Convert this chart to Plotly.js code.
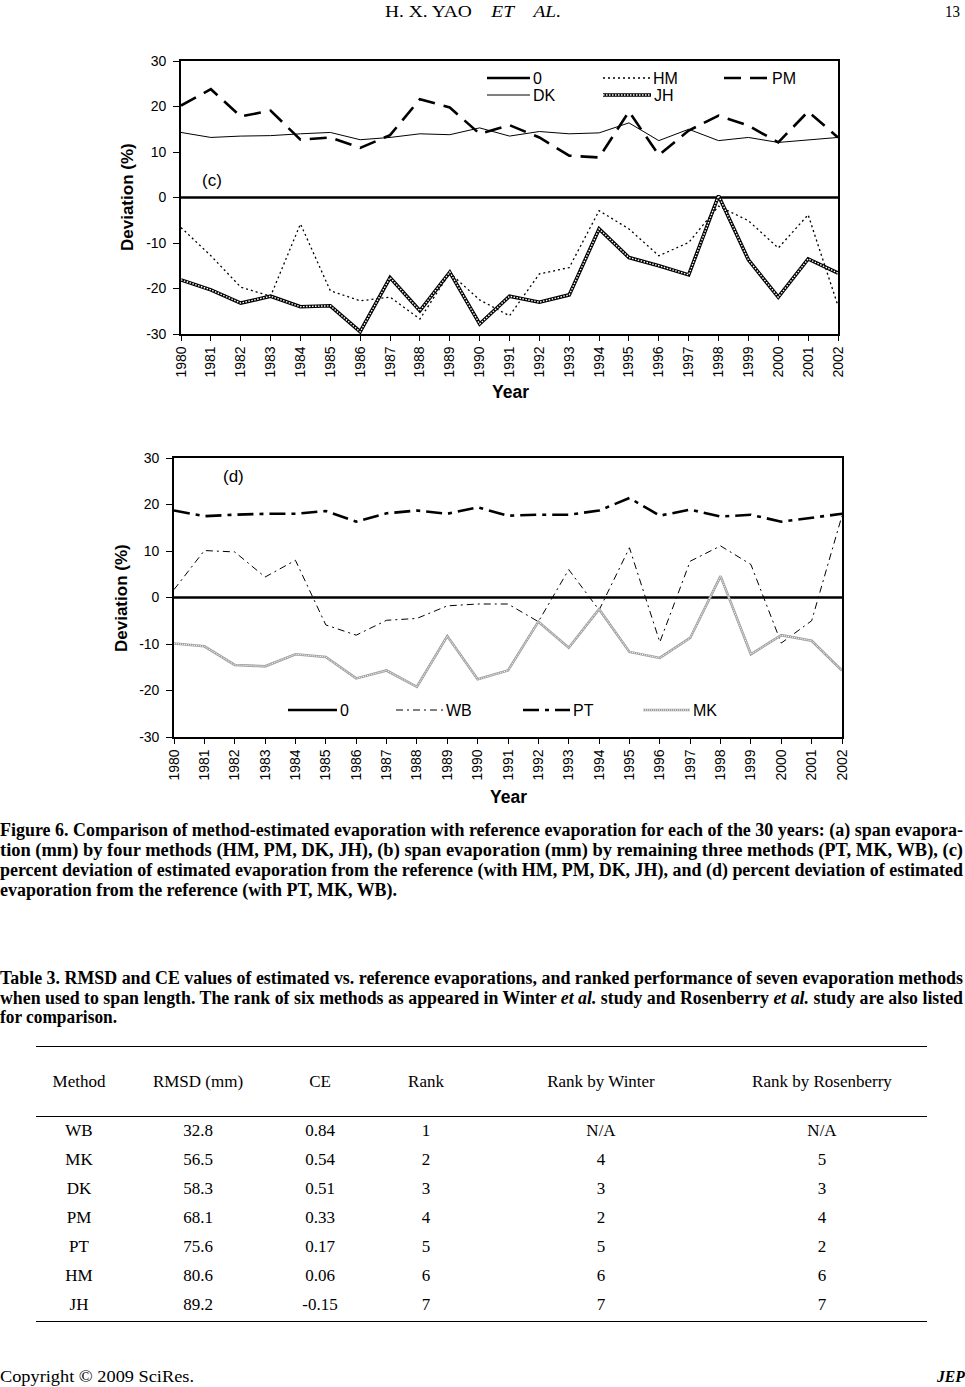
<!DOCTYPE html>
<html><head><meta charset="utf-8">
<script src="https://cdn.plot.ly/plotly-3.0.1.min.js"></script>
<style>
html,body{margin:0;padding:0;background:#fff;}
body{width:965px;height:1387px;position:relative;overflow:hidden;font-family:"Liberation Serif","Times New Roman",serif;color:#000;}
#plot{position:absolute;left:0;top:0;width:965px;height:1387px;}
.t{position:absolute;white-space:pre;transform-origin:0 50%;line-height:20px;}
.b{font-weight:bold;}
.cell{position:absolute;width:220px;text-align:center;font-size:17px;line-height:20px;white-space:nowrap;}
.rule{position:absolute;left:36px;width:891px;height:0;border-top:1.5px solid #000;}
</style></head><body>
<div id="plot"></div>
<div id="texts"></div>
<script>
// ---------- data ----------
const years = [1980,1981,1982,1983,1984,1985,1986,1987,1988,1989,1990,1991,1992,1993,1994,1995,1996,1997,1998,1999,2000,2001,2002];
const yearLabels = ['1980','1981','1982','1983','1984','1985','1986','1987','1988','1989','1990','1991','1992','1993','1994','1995','1996','1997','1998','1999','2000','2001','2002'];
const zeroLine = [0,0,0,0,0,0,0,0,0,0,0,0,0,0,0,0,0,0,0,0,0,0,0];
// panel (c)
const devHM = [-6.6,-12.8,-19.7,-21.7,-5.8,-20.5,-22.7,-21.9,-26.7,-16.6,-22.5,-26.0,-16.8,-15.4,-2.9,-6.9,-12.8,-9.9,-1.9,-5.1,-11.1,-3.8,-23.8];
const devPM = [20.2,23.8,17.8,19.1,12.7,13.2,10.9,13.7,21.6,19.8,14.0,15.9,13.2,9.2,8.8,18.9,9.3,14.7,18.0,15.8,12.1,18.9,13.2];
const devDK = [14.3,13.2,13.5,13.6,14.0,14.3,12.7,13.2,14.0,13.8,15.3,13.5,14.5,14.0,14.2,16.4,12.5,15.0,12.5,13.2,12.1,12.7,13.2];
const devJH = [-18.1,-20.3,-23.2,-21.7,-24.0,-23.8,-29.5,-17.6,-24.9,-16.4,-27.8,-21.7,-23.0,-21.4,-6.9,-13.2,-15.0,-17.0,0.4,-13.7,-21.9,-13.5,-16.6];
// panel (d)
const devWB = [1.7,10.1,9.8,4.4,8.0,-5.9,-8.1,-4.9,-4.5,-1.8,-1.4,-1.4,-5.2,6.0,-2.7,10.7,-9.6,7.8,11.1,7.1,-9.8,-5.0,17.6];
const devPT = [18.7,17.5,17.8,18.0,18.0,18.6,16.3,18.1,18.7,18.0,19.4,17.6,17.8,17.8,18.7,21.4,17.6,18.9,17.4,17.8,16.3,17.2,18.0];
const devMK = [-9.9,-10.5,-14.5,-14.8,-12.2,-12.8,-17.4,-15.7,-19.2,-8.3,-17.6,-15.7,-5.2,-10.8,-2.5,-11.7,-13.0,-8.7,4.6,-12.2,-8.1,-9.3,-15.7];
const yTicks = [-30,-20,-10,0,10,20,30];
const yTickLabels = ['-30','-20','-10','0','10','20','30'];
// table 3
const methods = ['WB','MK','DK','PM','PT','HM','JH'];
const rmsd = ['32.8','56.5','58.3','68.1','75.6','80.6','89.2'];
const ceVals = ['0.84','0.54','0.51','0.33','0.17','0.06','-0.15'];
const rankVals = ['1','2','3','4','5','6','7'];
const rankWinter = ['N/A','4','3','2','5','6','7'];
const rankRosen = ['N/A','5','3','4','2','6','7'];
const tableHeader = ['Method','RMSD (mm)','CE','Rank','Rank by Winter','Rank by Rosenberry'];

// ---------- chart ----------
const W = 965, H = 1387;
const P = x => x / W, Q = y => 1 - y / H;
const sans = 'Liberation Sans, Arial, sans-serif';
function ln(y, xa, ya, color, width, dash){
  return {x: years, y: y, xaxis: xa, yaxis: ya, mode: 'lines', line: {color: color, width: width, dash: dash, shape: 'linear'}, hoverinfo: 'skip', showlegend: false};
}
const styles = {
  zero: ['#000', 2.5, 'solid'],
  HM: ['#000', 1.3, '2px,3px'],
  PM: ['#000', 2.6, '17px,9px'],
  DK: ['#000', 1.0, 'solid'],
  JHo: ['#000', 3.6, 'solid'],
  JHi: ['#fff', 1.4, '1.5px,1.5px'],
  WB: ['#000', 1.0, '7px,4px,2px,4px'],
  PT: ['#000', 2.6, '16px,6px,4px,6px'],
  MKo: ['#a0a0a0', 2.6, 'solid'],
  MKi: ['#fff', 1.0, '1px,1px']
};
const traces = [
  ln(devDK,'x','y',...styles.DK),
  ln(devPM,'x','y',...styles.PM),
  ln(devHM,'x','y',...styles.HM),
  ln(zeroLine,'x','y',...styles.zero),
  ln(devJH,'x','y',...styles.JHo),
  ln(devJH,'x','y',...styles.JHi),
  ln(devPT,'x2','y2',...styles.PT),
  ln(devWB,'x2','y2',...styles.WB),
  ln(zeroLine,'x2','y2',...styles.zero),
  ln(devMK,'x2','y2',...styles.MKo),
  ln(devMK,'x2','y2',...styles.MKi)
];
const tickFont = {family:sans, size:14, color:'#000'};
function xax(d0, d1, anchor){
  return {domain:[P(d0),P(d1)], range:[1980,2002], anchor:anchor, tickmode:'array', tickvals:years, ticktext:yearLabels,
    tickangle:-90, ticks:'outside', ticklen:5, tickwidth:1, tickcolor:'#000', showline:true, linecolor:'#000', linewidth:1.8,
    mirror:true, showgrid:false, zeroline:false, tickfont:tickFont, automargin:false, fixedrange:true};
}
function yax(t, b, anchor){
  return {domain:[Q(b),Q(t)], range:[-30,30], anchor:anchor, tickmode:'array', tickvals:yTicks, ticktext:yTickLabels, ticks:'outside', ticklen:6, tickwidth:1,
    tickcolor:'#000', showline:true, linecolor:'#000', linewidth:1.8, mirror:true, showgrid:false, zeroline:false,
    tickfont:tickFont, ticklabelstandoff:4, automargin:false, fixedrange:true};
}
const shapes = [], annotations = [];
function legItem(x0, x1, y, st, label, st2){
  shapes.push({type:'line', xref:'paper', yref:'paper', x0:P(x0), x1:P(x1), y0:Q(y), y1:Q(y), line:{color:st[0], width:st[1], dash:st[2]}});
  if (st2) shapes.push({type:'line', xref:'paper', yref:'paper', x0:P(x0), x1:P(x1), y0:Q(y), y1:Q(y), line:{color:st2[0], width:st2[1], dash:st2[2]}});
  annotations.push({xref:'paper', yref:'paper', x:P(x1+1), y:Q(y), xanchor:'left', yanchor:'middle', text:label, showarrow:false, font:{family:sans, size:16, color:'#000'}});
}
legItem(487, 530, 78, styles.zero, '0');
legItem(603, 650, 78, styles.HM, 'HM');
legItem(724, 769, 78, styles.PM, 'PM');
legItem(487, 530, 95, styles.DK, 'DK');
legItem(603, 651, 95, styles.JHo, 'JH', styles.JHi);
legItem(288, 337, 710, styles.zero, '0');
legItem(396, 443, 710, styles.WB, 'WB');
legItem(523, 570, 710, styles.PT, 'PT');
legItem(643, 690, 710, styles.MKo, 'MK', styles.MKi);
function ann(x, y, text, size, angle){
  annotations.push({xref:'paper', yref:'paper', x:P(x), y:Q(y), xanchor:'center', yanchor:'middle', text:text, showarrow:false, textangle:angle||0, font:{family:sans, size:size, color:'#000'}});
}
ann(212, 180, '(c)', 17);
ann(233, 477, '(d)', 17);
ann(510, 392, '<b>Year</b>', 17.5);
ann(508, 797, '<b>Year</b>', 17.5);
ann(128, 197, '<b>Deviation (%)</b>', 17, -90);
ann(121, 598, '<b>Deviation (%)</b>', 17, -90);

const layout = {
  width: W, height: H, margin:{l:0, r:0, t:0, b:0}, paper_bgcolor:'#fff', plot_bgcolor:'rgba(0,0,0,0)', showlegend:false,
  xaxis: xax(181, 838, 'y'), yaxis: yax(61, 334, 'x'),
  xaxis2: xax(174, 842, 'y2'), yaxis2: yax(458, 737, 'x2'),
  shapes: shapes, annotations: annotations
};
Plotly.newPlot('plot', traces, layout, {staticPlot:true, displayModeBar:false});

// ---------- page text ----------
const box = document.getElementById('texts');
function txt(html, x, yc, size, cls, targetW){
  const d = document.createElement('div');
  d.className = 't ' + (cls || '');
  d.style.left = x + 'px'; d.style.top = (yc - 10) + 'px'; d.style.fontSize = size + 'px';
  d.innerHTML = html;
  if (targetW) d.dataset.w = targetW;
  box.appendChild(d);
  return d;
}
txt('H. X. YAO    <i>ET</i>    <i>AL.</i>', 385, 12, 17, '', 176);
txt('13', 945, 12, 17, '', 15);
const cap = [
  ['Figure 6. Comparison of method-estimated evaporation with reference evaporation for each of the 30 years: (a) span evapora-', 963],
  ['tion (mm) by four methods (HM, PM, DK, JH), (b) span evaporation (mm) by remaining three methods (PT, MK, WB), (c)', 963],
  ['percent deviation of estimated evaporation from the reference (with HM, PM, DK, JH), and (d) percent deviation of estimated', 963],
  ['evaporation from the reference (with PT, MK, WB).', 397]
];
cap.forEach((c, i) => txt(c[0], 0, 830 + 20 * i, 18, 'b', c[1]));
const tcap = [
  ['Table 3. RMSD and CE values of estimated vs. reference evaporations, and ranked performance of seven evaporation methods', 963],
  ['when used to span length. The rank of six methods as appeared in Winter <i>et al.</i> study and Rosenberry <i>et al.</i> study are also listed', 963],
  ['for comparison.', 117]
];
tcap.forEach((c, i) => txt(c[0], 0, 978 + 19.5 * i, 18, 'b', c[1]));
txt('Copyright © 2009 SciRes.', 0, 1377, 17, '', 194);
txt('<b><i>JEP</i></b>', 937, 1377, 17, '', 28);

// table
const colX = [79, 198, 320, 426, 601, 822];
function cell(text, xc, yc){
  const d = document.createElement('div');
  d.className = 'cell';
  d.style.left = (xc - 110) + 'px'; d.style.top = (yc - 10) + 'px';
  d.textContent = text; box.appendChild(d);
}
[1046, 1116, 1321].forEach(y => { const r = document.createElement('div'); r.className = 'rule'; r.style.top = y + 'px'; box.appendChild(r); });
tableHeader.forEach((h, j) => cell(h, colX[j], 1082));
const cols = [methods, rmsd, ceVals, rankVals, rankWinter, rankRosen];
methods.forEach((m, i) => cols.forEach((col, j) => cell(col[i], colX[j], 1131 + 29 * i)));

function fit(){
  document.querySelectorAll('[data-w]').forEach(el => {
    el.style.transform = 'none';
    const w = el.getBoundingClientRect().width;
    if (w > 0) el.style.transform = 'scaleX(' + (parseFloat(el.dataset.w) / w) + ')';
  });
}
fit();
if (document.fonts && document.fonts.ready) document.fonts.ready.then(fit);
</script>
</body></html>
